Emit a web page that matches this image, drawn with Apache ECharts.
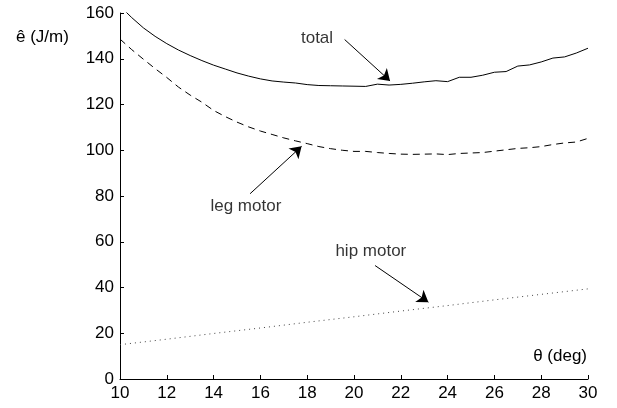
<!DOCTYPE html>
<html>
<head>
<meta charset="utf-8" />
<title></title>
<script type="text/javascript" src="https://cdn.jsdelivr.net/npm/echarts@6/dist/echarts.min.js"></script>
</head>
<body style="margin:0;background:#fff;">
	<div id="chartmain" style="width: 617px; height: 408px;"></div>
	<script type="text/javascript">
		// theta (deg) samples and the three energy curves (J/m)
		var theta = [10, 10.5, 11, 11.5, 12, 12.5, 13, 13.5, 14, 14.5, 15, 15.5, 16, 16.5, 17, 17.5, 18, 18.5, 19, 19.5,
			20, 20.5, 21, 21.5, 22, 22.5, 23, 23.5, 24, 24.5, 25, 25.5, 26, 26.5, 27, 27.5, 28, 28.5, 29, 29.5, 30];
		var total = [163, 158, 153.5, 149.8, 146.6, 143.8, 141.4, 139.2, 137.2, 135.5, 133.8, 132.4, 131.2, 130.3, 129.8, 129.4, 128.7, 128.3, 128.2, 128.1,
			128.0, 127.9, 128.9, 128.5, 128.8, 129.3, 129.9, 130.4, 130.0, 131.9, 131.9, 132.8, 134.1, 134.4, 136.8, 137.3, 138.6, 140.3, 140.8, 142.5, 144.6];
		var legMotor = [148.6, 144, 139.8, 135.7, 131.8, 127.6, 124.1, 121, 117.4, 114.7, 112.3, 110.2, 108.4, 106.9, 105.4, 104.1, 102.9, 101.6, 100.7, 100,
			99.5, 99.5, 99, 98.6, 98.3, 98.2, 98.3, 98.4, 98.1, 98.6, 98.8, 99, 99.6, 100.2, 100.8, 101.1, 101.6, 102.5, 103.2, 103.6, 105.2];
		var hipTheta = [10, 12, 14, 16, 18, 20, 22, 24, 26, 28, 30];
		var hipMotor = [15, 17.4, 19.9, 22.3, 24.8, 27.2, 29.7, 32.1, 34.6, 37.0, 39.4];
		var xTicks = [10, 12, 14, 16, 18, 20, 22, 24, 26, 28, 30];
		var yTicks = [0, 20, 40, 60, 80, 100, 120, 140, 160];

		// annotations, in data units: label, label position, arrow start, arrow tip
		var notes = [
			['total', [18.42, 149], [19.6, 148.4], [21.54, 130.3]],
			['leg motor', [15.38, 75.7], [15.56, 81], [17.76, 101.7]],
			['hip motor', [20.72, 56], [20.9, 49.6], [23.18, 33.6]]
		];

		var font = 'Liberation Sans, Arial, Helvetica, sans-serif';

		function pairs(xs, ys) {
			return xs.map(function (x, i) { return [x, ys[i]]; });
		}

		var option = {
			animation : false,
			backgroundColor : '#fff',
			grid : { left : 120, right : 29, top : 13, bottom : 29 },
			xAxis : {
				type : 'value',
				min : xTicks[0],
				max : xTicks[xTicks.length - 1],
				interval : 2,
				axisLine : { lineStyle : { color : '#000', width : 1 } },
				axisTick : { inside : true, length : 4, lineStyle : { color : '#000' } },
				axisLabel : { color : '#000', fontSize : 17, fontFamily : font, margin : 6 },
				splitLine : { show : false }
			},
			yAxis : {
				type : 'value',
				min : yTicks[0],
				max : yTicks[yTicks.length - 1],
				interval : 20,
				axisLine : { show : true, lineStyle : { color : '#000', width : 1 } },
				axisTick : { show : true, inside : true, length : 4, lineStyle : { color : '#000' } },
				axisLabel : { color : '#000', fontSize : 17, fontFamily : font, margin : 6 },
				splitLine : { show : false }
			},
			graphic : [
				{ type : 'text', right : 30, top : 348, style : { text : 'θ (deg)', fontSize : 17, fontFamily : font, fill : '#000' } },
				{ type : 'text', left : 16, top : 29, style : { text : 'ê (J/m)', fontSize : 17, fontFamily : font, fill : '#000' } }
			],
			series : [ {
				name : 'total',
				type : 'line',
				symbol : 'none',
				lineStyle : { color : '#000', width : 1 },
				data : pairs(theta, total)
			}, {
				name : 'leg motor',
				type : 'line',
				symbol : 'none',
				lineStyle : { color : '#000', width : 1, type : [7, 5] },
				data : pairs(theta, legMotor)
			}, {
				name : 'hip motor',
				type : 'line',
				symbol : 'none',
				lineStyle : { color : '#444', width : 1, type : [1, 4] },
				data : pairs(hipTheta, hipMotor)
			}, {
				name : 'arrows',
				type : 'lines',
				coordinateSystem : 'cartesian2d',
				silent : true,
				symbol : ['none', 'arrow'],
				symbolSize : 11,
				lineStyle : { color : '#000', width : 1, opacity : 1 },
				itemStyle : { color : '#000' },
				data : notes.map(function (n) { return { coords : [n[2], n[3]] }; })
			}, {
				name : 'notes',
				type : 'scatter',
				symbolSize : 0,
				silent : true,
				label : {
					show : true,
					position : 'inside',
					color : '#000',
					fontSize : 17,
					fontFamily : font,
					formatter : function (p) { return p.value[2]; }
				},
				data : notes.map(function (n) { return [n[1][0], n[1][1], n[0]]; })
			} ]
		};

		var myChart = echarts.init(document.getElementById('chartmain'));
		myChart.setOption(option);
	</script>
</body>
</html>
